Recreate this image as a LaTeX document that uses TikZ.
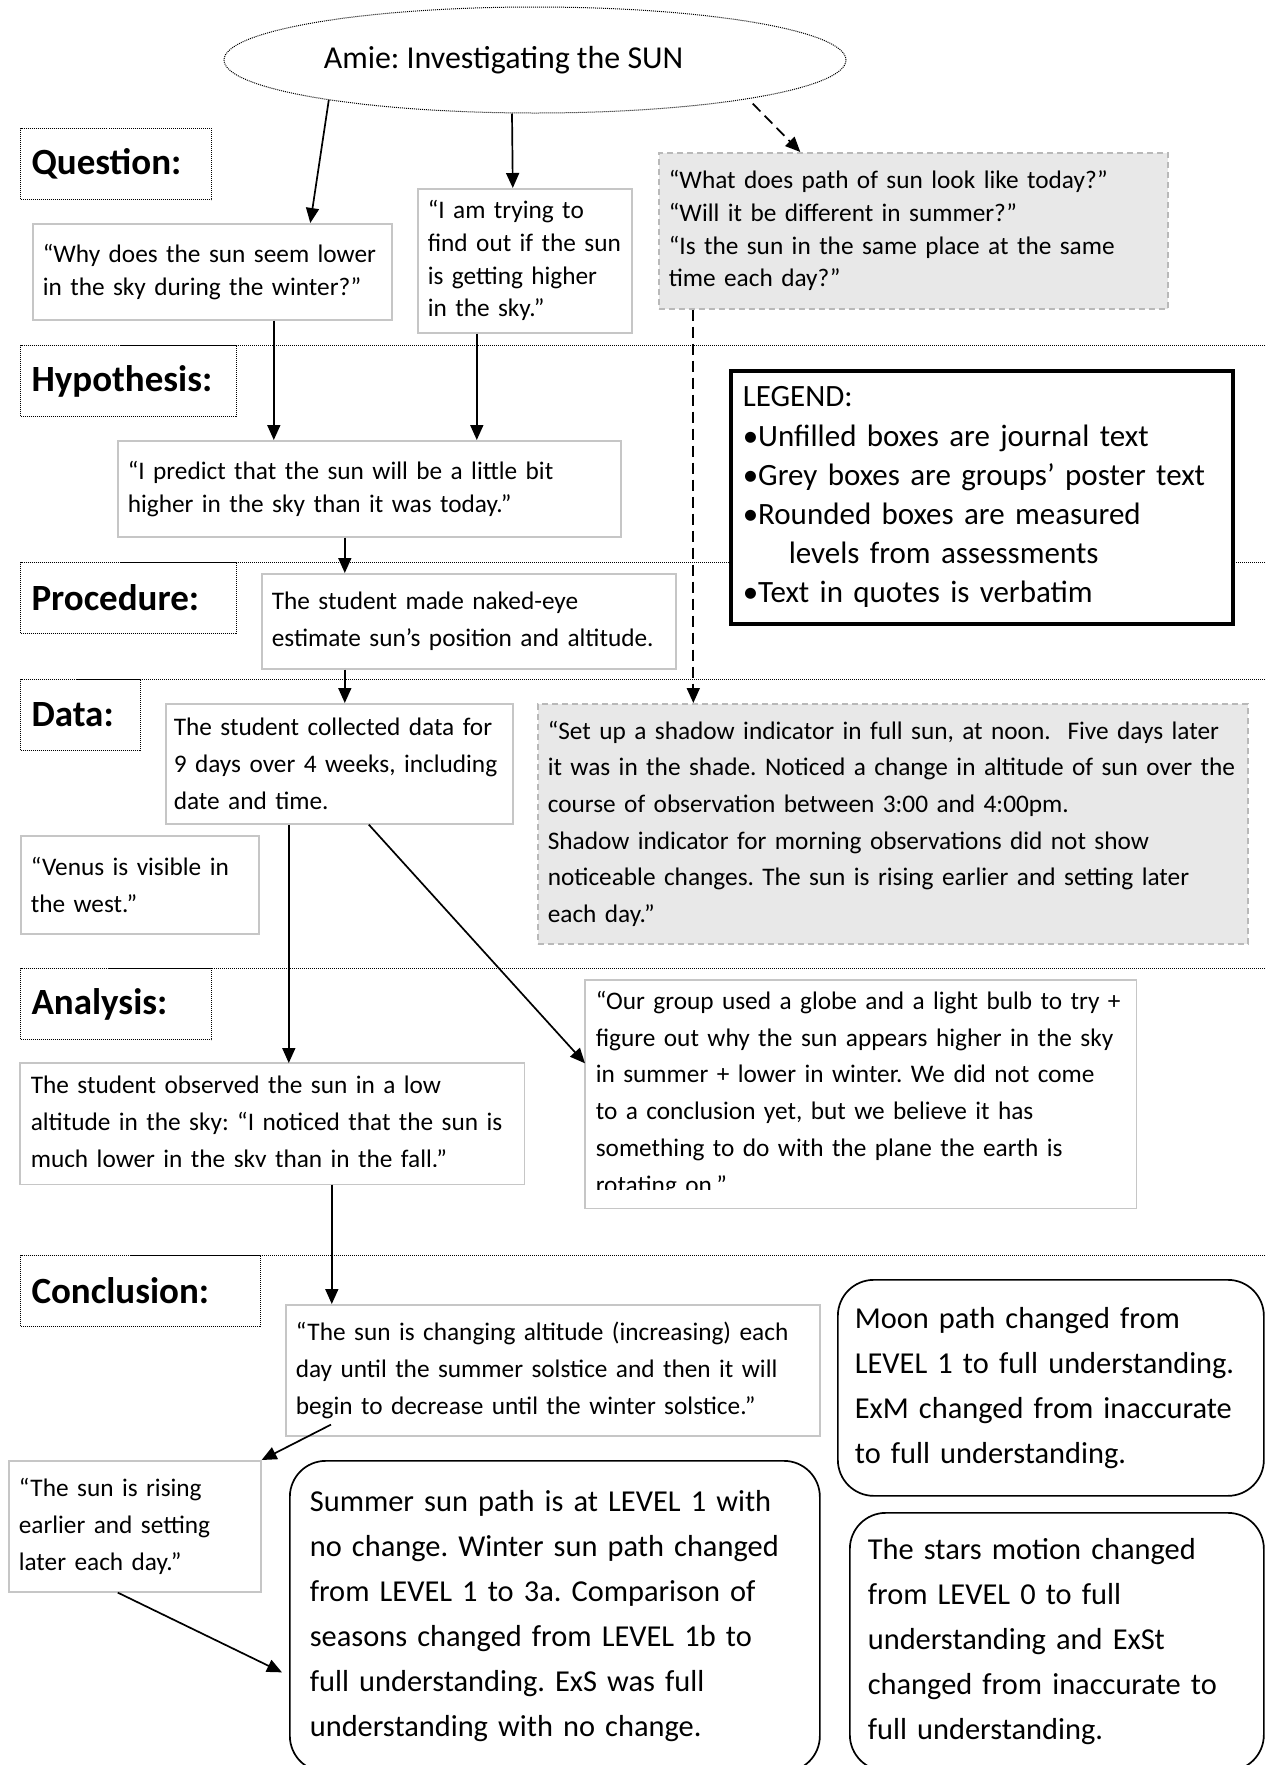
\documentclass[tikz,border=0pt]{standalone}
\usepackage{fontspec}
\setmainfont{Carlito}
\frenchspacing
\usetikzlibrary{arrows.meta,shapes.geometric}

\tikzset{
  box/.style={draw=gray!45, line width=1.6pt, fill=white, anchor=north west, align=left,
    inner xsep=10pt, inner ysep=0pt, font=\fontsize{25.3}{36.7}\selectfont},
  tight/.style={font=\fontsize{25.3}{32.6}\selectfont},
  gbox/.style={box, draw=gray!55, fill=black!9, dash pattern=on 6pt off 4pt},
  rbox/.style={draw, line width=1.7pt, rounded corners=36pt, anchor=north west, align=left,
    inner ysep=0pt, font=\fontsize{30.4}{45}\selectfont},
  lab/.style={draw, line width=1pt, dash pattern=on 1pt off 1pt, anchor=north west, align=left,
    inner xsep=11pt, inner ysep=0pt, minimum height=71pt, font=\fontsize{37}{42}\selectfont\bfseries},
  sepline/.style={line width=1pt, dash pattern=on 1pt off 1pt},
  arr/.style={-{Triangle[length=15pt,width=13pt]}, line width=1.7pt},
  darr/.style={arr, dash pattern=on 11pt off 6pt}
}

\begin{document}
\begin{tikzpicture}[x=1pt,y=-1pt]
      \useasboundingbox (0,0) rectangle (1265,1765);
      % stage labels
      \node[lab, text width=169pt] (lque) at (20,128) {Question:};
      \node[lab, text width=194pt] (lhyp) at (20,345) {Hypothesis:};
      \node[lab, text width=194pt] (lpro) at (20,562) {Procedure:};
      \node[lab, text width=98pt] (ldat) at (20,679) {Data:};
      \node[lab, text width=169pt] (lana) at (20,968) {Analysis:};
      \node[lab, text width=218pt] (lcon) at (20,1255) {Conclusion:};
      \foreach \l in {lhyp,lpro,ldat,lana,lcon}
        \draw[sepline] (\l.north west) -- ++(1300,0);
      % title
      \node[ellipse, draw, line width=1pt, dash pattern=on 1pt off 1pt, minimum width=622pt, minimum height=106pt,
        inner sep=0pt, font=\fontsize{31.9}{36}\selectfont] (ell) at (535,60) {Amie: Investigating the SUN\hspace*{63pt}};
      % question
      \node[box, tight, text width=339pt, minimum height=96pt] (q1) at (32,223)
        {“Why does the sun seem lower\\in the sky during the winter?”};
      \node[box, tight, text width=194pt, minimum height=144pt] (q2) at (417,188)
        {“I am trying to\\find out if the sun\\is getting higher\\in the sky.”};
      \node[gbox, tight, text width=489pt, minimum height=156pt] (q3) at (658,152)
        {“What does path of sun look like today?”\\“Will it be different in summer?”\\“Is the sun in the same place at the same\\time each day?”};
      % hypothesis, procedure
      \node[box, tight, text width=483pt, minimum height=96pt] (hyp) at (117,440)
        {“I predict that the sun will be a little bit\\higher in the sky than it was today.”};
      \node[box, text width=394pt, minimum height=95pt] (proc) at (261,573)
        {The student made naked-eye\\estimate sun’s position and altitude.};
      % legend
      \node[draw, line width=3.5pt, fill=white, anchor=north west, align=left, inner xsep=12pt, inner ysep=0pt,
        text width=478pt, minimum height=253pt, font=\fontsize{31}{39.2}\selectfont] (leg) at (729,369)
        {LEGEND:\\•Unfilled boxes are journal text\\•Grey boxes are groups’ poster text\\•Rounded boxes are measured\\
         \hspace*{46pt}levels from assessments\\•Text in quotes is verbatim};
      % data
      \node[box, inner xsep=8pt, text width=331pt, minimum height=120pt] (data) at (165,703)
        {The student collected data for\\9 days over 4 weeks, including\\date and time.};
      \node[gbox, text width=690pt, minimum height=240pt] (gdata) at (537,703)
        {“Set up a shadow indicator in full sun, at noon.\ \ Five days later\\it was in the shade. Noticed a change in altitude of sun over the\\course of observation between 3:00 and 4:00pm.\\Shadow indicator for morning observations did not show\\noticeable changes. The sun is rising earlier and setting later\\each day.”};
      \node[box, text width=218pt, minimum height=98pt] (venus) at (20,835)
        {“Venus is visible in\\the west.”};
      % analysis
      \begin{scope}
        \clip (0,0) rectangle (1265,1166);
        \node[box, draw=none, fill=none, text width=483pt, minimum height=120pt] (ana) at (20,1063)
          {The student observed the sun in a low\\altitude in the sky: “I noticed that the sun is\\much lower in the sky than in the fall.”};
      \end{scope}
      \draw[gray!45, line width=1.6pt] (ana.north west) rectangle (ana.south east);
      \begin{scope}
        \clip (0,0) rectangle (1265,1189);
        \node[box, draw=none, fill=none, text width=530pt, minimum height=227pt] (grp) at (585,980)
          {“Our group used a globe and a light bulb to try +\\figure out why the sun appears higher in the sky\\in summer + lower in winter. We did not come\\to a conclusion yet, but we believe it has\\something to do with the plane the earth is\\rotating on.”};
      \end{scope}
      \draw[gray!45, line width=1.6pt] (grp.north west) rectangle (grp.south east);
      % conclusion
      \node[box, text width=514pt, minimum height=131pt] (concl) at (285,1304)
        {“The sun is changing altitude (increasing) each\\day until the summer solstice and then it will\\begin to decrease until the winter solstice.”};
      \node[box, text width=232pt, minimum height=131pt] (rise) at (8,1460)
        {“The sun is rising\\earlier and setting\\later each day.”};
      \node[rbox, inner xsep=20pt, text width=490pt, minimum height=311pt] (big) at (289,1460)
        {Summer sun path is at LEVEL 1 with\\no change. Winter sun path changed\\from LEVEL 1 to 3a. Comparison of\\seasons changed from LEVEL 1b to\\full understanding. ExS was full\\understanding with no change.};
      \node[rbox, inner xsep=17pt, text width=392pt, minimum height=216pt] (moon) at (837,1279)
        {Moon path changed from\\LEVEL 1 to full understanding.\\ExM changed from inaccurate\\to full understanding.};
      \node[rbox, inner xsep=18pt, text width=378pt, minimum height=258pt] (stars) at (849,1512)
        {The stars motion changed\\from LEVEL 0 to full\\understanding and ExSt\\changed from inaccurate to\\full understanding.};
      % connectors
      \draw[arr] (ell.191) -- ([xshift=98pt]q1.north);
      \draw[arr] ([xshift=-23pt]ell.south) -- ([xshift=-12pt]q2.north);
      \draw[darr] ([shift={(22pt,-2pt)}]ell.-12) -- ([xshift=-113pt]q3.north);
      \draw[darr] ([xshift=-220pt]q3.south) -- ([xshift=-220pt]q3.south |- gdata.north);
      \draw[arr] ([xshift=61.5pt]q1.south) -- ([xshift=61.5pt]q1.south |- hyp.north);
      \draw[arr] ([xshift=-48pt]q2.south) -- ([xshift=-48pt]q2.south |- hyp.north);
      \draw[arr] ([xshift=-24.5pt]hyp.south) -- ([xshift=-24.5pt]hyp.south |- proc.north);
      \draw[arr] ([xshift=-124pt]proc.south) -- ([xshift=-124pt]proc.south |- data.north);
      \draw[arr] ([xshift=-50.5pt]data.south) -- ([xshift=-50.5pt]data.south |- ana.north);
      \draw[arr] ([xshift=29.5pt]data.south) -- ([yshift=31pt]grp.west);
      \draw[arr] ([xshift=59.5pt]ana.south) -- ([xshift=59.5pt]ana.south |- concl.north);
      \draw[arr] ([shift={(46pt,12pt)}]concl.south west) -- (rise.north east);
      \draw[arr] ([xshift=-17pt]rise.south) -- ([shift={(-7pt,-56pt)}]big.west);
\end{tikzpicture}
\end{document}
